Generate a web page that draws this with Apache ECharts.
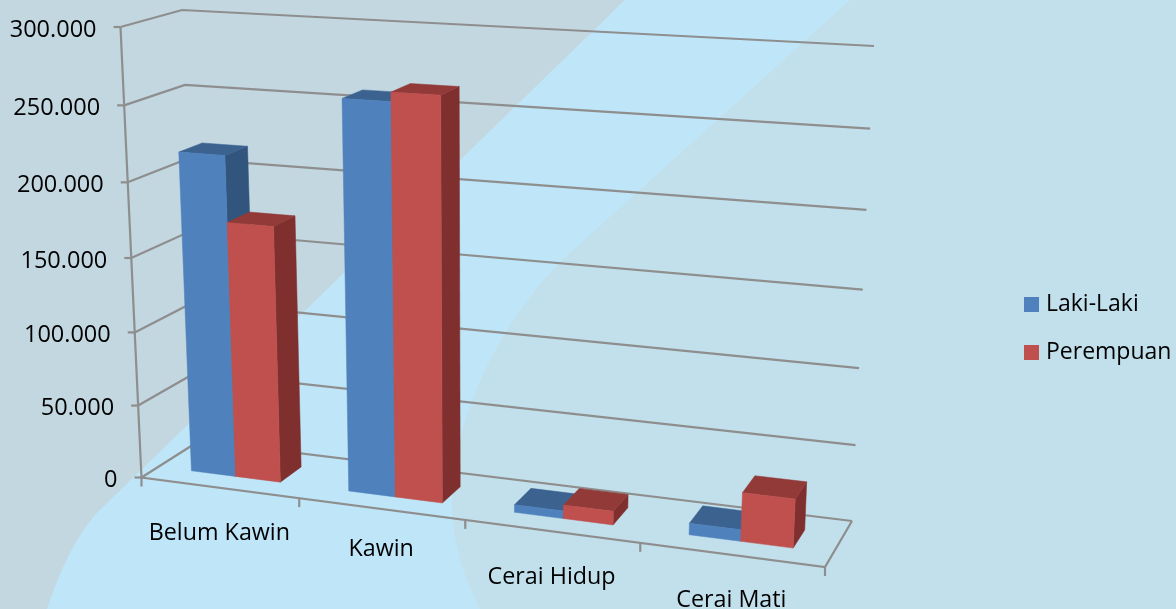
<!DOCTYPE html>
<html>
<head>
<meta charset="utf-8">
<title>Status Perkawinan</title>
<script src="https://cdn.jsdelivr.net/npm/echarts@6/dist/echarts.min.js"></script>
<style>
  html, body { margin: 0; padding: 0; background: #c2e0ec; }
  #chart { width: 1176px; height: 609px; }
</style>
</head>
<body>
<div id="chart"></div>
<script>
const categories = ["Belum Kawin", "Kawin", "Cerai Hidup", "Cerai Mati"];
const lakiLaki = [217000, 259000, 5000, 7500];
const perempuan = [173000, 265000, 9000, 31500];
const yTicks = [0, 50000, 100000, 150000, 200000, 250000, 300000];
const yTickLabels = ["0", "50.000", "100.000", "150.000", "200.000", "250.000", "300.000"];

// screen corners of the 3d box: [x][y][z], 0 = left/bottom/front, 1 = right/top/back
const corners = [
  [[[141.5, 477.5], [199, 441]], [[120.5, 27], [182, 10]]],
  [[[825, 567], [852, 521]], [[848, 68], [874, 46]]]
];
const XPERSP = -0.1;
const YPERSP = -0.05;
const BAR_Z = [0.3, 0.7];
const LABEL_DY = [46, 40, 46, 46];
const FONT = "'Open Sans'";
const LINE = "#8e8e8e";

const persp = (t, k) => t * (1 + k) / (1 + k * t);
const mix = (a, b, t) => [a[0] + (b[0] - a[0]) * t, a[1] + (b[1] - a[1]) * t];

// u, t are 0..1 along the grid, z is depth
function project(u, t, z) {
  const fu = persp(u, XPERSP);
  const ft = persp(t, YPERSP);
  const edge = (i, j) => mix(corners[i][j][0], corners[i][j][1], z);
  return mix(mix(edge(0, 0), edge(1, 0), fu), mix(edge(0, 1), edge(1, 1), fu), ft);
}

const gridPos = (params, api, cat, val) => {
  const cs = params.coordSys;
  const p = api.coord([cat, val]);
  return [(p[0] - cs.x) / cs.width, (cs.y + cs.height - p[1]) / cs.height];
};

const quad = (points, fill) => ({
  type: "polygon",
  shape: { points: points },
  style: { fill: fill, stroke: fill, lineWidth: 0.5 }
});

function barRenderer(offset, front, top, side) {
  return (params, api) => {
    const cat = api.value(0);
    const [c, t] = gridPos(params, api, cat, api.value(1));
    const band = api.size([1, 0])[0] / params.coordSys.width;
    const barW = band / 3.5; // gap width 150%
    const u0 = c + offset * barW;
    const u1 = u0 + barW;
    const [z0, z1] = BAR_Z;
    return {
      type: "group",
      children: [
        quad([project(u1, 0, z0), project(u1, 0, z1), project(u1, t, z1), project(u1, t, z0)], side),
        quad([project(u0, t, z0), project(u1, t, z0), project(u1, t, z1), project(u0, t, z1)], top),
        quad([project(u0, 0, z0), project(u1, 0, z0), project(u1, t, z0), project(u0, t, z0)], front)
      ]
    };
  };
}

function renderWallLine(params, api) {
  const val = api.value(1);
  const [, t] = gridPos(params, api, 0, val);
  const start = project(0, t, 0);
  const children = [
    { type: "polyline", shape: { points: [start, project(0, t, 1), project(1, t, 1)] }, style: { fill: null, stroke: LINE, lineWidth: 2.2 } },
    { type: "line", shape: { x1: start[0] - 7, y1: start[1], x2: start[0], y2: start[1] }, style: { stroke: LINE, lineWidth: 2.2 } },
    { type: "text", style: { x: start[0] - 24, y: start[1] + 3, text: yTickLabels[params.dataIndex], fill: "#000", font: "23.5px " + FONT, align: "right", verticalAlign: "middle" } }
  ];
  return { type: "group", children: children };
}

function renderCategory(params, api) {
  const i = api.value(0);
  const [c] = gridPos(params, api, i, 0);
  const band = api.size([1, 0])[0] / params.coordSys.width;
  const tickAt = project(c + band / 2, 0, 0);
  const mid = project(c, 0, 0);
  return {
    type: "group",
    children: [
      { type: "line", shape: { x1: tickAt[0], y1: tickAt[1], x2: tickAt[0], y2: tickAt[1] + 9 }, style: { stroke: LINE, lineWidth: 2.2 } },
      { type: "text", style: { x: mid[0], y: mid[1] + LABEL_DY[i], text: categories[i], fill: "#000", font: "23.3px " + FONT, align: "center", verticalAlign: "middle" } }
    ]
  };
}

function renderFrame(params, api) {
  const [, t] = gridPos(params, api, 0, 0);
  const [, top] = gridPos(params, api, 0, yTicks[yTicks.length - 1]);
  const a = project(0, t, 0);
  return {
    type: "group",
    children: [
      { type: "polyline", shape: { points: [project(0, top, 0), a, project(1, t, 0), project(1, t, 1)] }, style: { fill: null, stroke: LINE, lineWidth: 2.2 } },
      { type: "line", shape: { x1: a[0], y1: a[1], x2: a[0], y2: a[1] + 9 }, style: { stroke: LINE, lineWidth: 2.2 } }
    ]
  };
}

// background swooshes, curves sampled from a cubic
function curve(p0, p1, p2, p3) {
  const out = [];
  for (let i = 0; i <= 24; i++) {
    const s = i / 24, r = 1 - s;
    out.push([
      r * r * r * p0[0] + 3 * r * r * s * p1[0] + 3 * r * s * s * p2[0] + s * s * s * p3[0],
      r * r * r * p0[1] + 3 * r * r * s * p1[1] + 3 * r * s * s * p2[1] + s * s * s * p3[1]
    ]);
  }
  return out;
}
const leftEdge = curve([100, 510], [78, 532], [60, 570], [47, 609]);
const rightEdge = curve([560, 262], [490, 335], [450, 430], [452, 510]);
const rightFoot = curve([452, 510], [453, 545], [465, 580], [480, 609]);

const chart = echarts.init(document.getElementById("chart"));
chart.setOption({
  animation: false,
  backgroundColor: "#c2e0ec",
  textStyle: { fontFamily: FONT },
  graphic: [
    { type: "polygon", silent: true, z: -2, shape: { points: [[0, 0], [625, 0], ...leftEdge, [0, 609]] }, style: { fill: "#c3d7e1" } },
    { type: "polygon", silent: true, z: -2, shape: { points: [[625, 0], [850, 0], ...rightEdge, ...rightFoot, ...leftEdge.slice().reverse()] }, style: { fill: "#bfe6f8" } }
  ],
  grid: { left: 100, right: 100, top: 50, bottom: 50 },
  xAxis: { type: "category", data: categories, show: false },
  yAxis: { type: "value", min: 0, max: 300000, interval: 50000, show: false },
  legend: {
    data: ["Laki-Laki", "Perempuan"],
    orient: "vertical",
    left: 1019,
    top: 288,
    itemWidth: 15,
    itemHeight: 15,
    itemGap: 25,
    icon: "rect",
    textStyle: { fontSize: 23, fontFamily: FONT, color: "#000", padding: [0, 0, 0, 2] }
  },
  series: [
    { type: "custom", name: "wall", silent: true, renderItem: renderWallLine, encode: { y: 1 }, data: yTicks.map((v) => [0, v]) },
    { type: "custom", name: "frame", silent: true, renderItem: renderFrame, data: [[0, 0]] },
    { type: "custom", name: "axis", silent: true, renderItem: renderCategory, data: categories.map((c, i) => [i, 0]) },
    { type: "custom", name: "Laki-Laki", itemStyle: { color: "#4f81bd" }, renderItem: barRenderer(-1, "#4f81bd", "#3c6390", "#32557e"), encode: { x: 0, y: 1 }, data: lakiLaki.map((v, i) => [i, v]) },
    { type: "custom", name: "Perempuan", itemStyle: { color: "#c0504d" }, renderItem: barRenderer(0, "#c0504d", "#923a38", "#7f302e"), encode: { x: 0, y: 1 }, data: perempuan.map((v, i) => [i, v]) }
  ]
});
</script>
</body>
</html>
